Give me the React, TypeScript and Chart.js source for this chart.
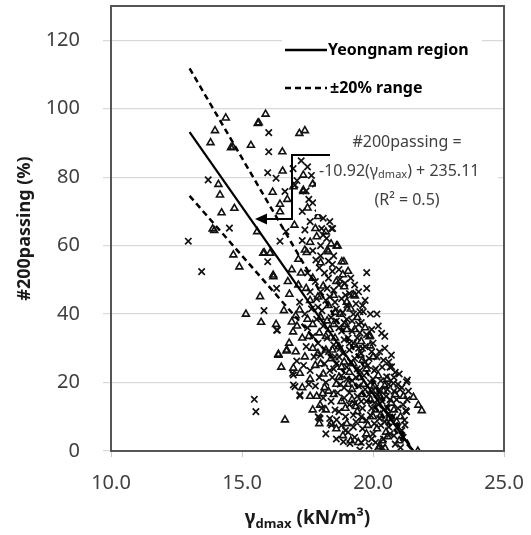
import React, { useEffect, useRef } from 'react';
import { Chart, registerables } from 'chart.js';

Chart.register(...registerables);

const FONT = '"Noto Sans", "DejaVu Sans", sans-serif';

// axis ranges / ticks
const xMin = 10;
const xMax = 25;
const xStep = 5;
const yMin = 0;
const yMax = 130;
const yStep = 20;
const yTickMax = 120;

// triangles (one data group)
const triPoints: [number, number][] = [
  [14.38, 97.3], [13.97, 93.6], [13.8, 90.1], [14.58, 88.6], [14.65, 88.8], [15.34, 89.3], [15.6, 95.7], [15.64, 95.9],
  [15.9, 98.4], [16.54, 87.4], [17.19, 92.8], [17.4, 93.6], [14.1, 77.9], [14.16, 74.8], [14.22, 69.6], [14.71, 70.9],
  [13.88, 64.9], [13.94, 64.4], [14.67, 57.3], [14.9, 53.8], [15.58, 64.1], [16.55, 81.8], [16.17, 75.6], [16.73, 73.5],
  [16.45, 72.1], [16.45, 69.9], [15.81, 57.8], [16.07, 57.8], [16.19, 51.4], [15.69, 45.1], [16.81, 45.8], [17.47, 58.0],
  [17.34, 75.8], [15.15, 40.0], [15.73, 37.6], [16.39, 28.3], [16.71, 29.5], [16.64, 9.1], [16.96, 24.2], [17.21, 22.7],
  [16.9, 37.7], [17.05, 39.5], [17.34, 76.2], [17.85, 62.6], [18.61, 59.9], [18.26, 58.7], [18.81, 55.3], [17.4, 58.7],
  [16.96, 77.2], [17.34, 80.6], [18.65, 59.9], [18.89, 55.3], [18.29, 58.2], [19.31, 45.3], [19.89, 33.6], [19.89, 30.7],
  [19.25, 45.6], [19.86, 33.4], [21.54, 15.7], [21.73, 13.4], [21.86, 11.8], [21.71, 0.0], [20.56, 4.2], [21.16, 16.0],
  [19.44, 2.5], [20.27, 1.3], [20.46, 0.8], [20.2, 0.8], [18.08, 16.8], [17.98, 13.4], [16.39, 28.0], [16.7, 29.2],
  [16.2, 50.9], [15.85, 57.9],
  [17.1, 36.5], [17.3, 33.0], [16.95, 34.8], [17.5, 38.5], [17.2, 41.2], [17.6, 44.0], [17.45, 47.5], [17.7, 50.5],
  [17.9, 45.0], [18.1, 48.2], [18.3, 42.5], [18.0, 39.0], [18.5, 37.0], [18.2, 33.5], [17.7, 30.0], [17.4, 27.5],
  [17.8, 25.0], [18.1, 22.5], [17.6, 21.0], [18.4, 27.0], [18.7, 30.5], [18.9, 26.0], [19.1, 23.0], [18.6, 19.5],
  [18.3, 17.5], [18.8, 14.5], [19.2, 18.0], [19.5, 21.5], [19.6, 26.5], [19.3, 31.0], [19.0, 35.5], [18.75, 40.0],
  [18.5, 45.5], [18.9, 48.0], [19.4, 39.0], [19.7, 36.0], [20.0, 27.5], [20.2, 22.0], [20.4, 17.5], [19.9, 15.0],
  [19.4, 11.5], [19.0, 8.0], [18.6, 6.5], [19.8, 7.5], [20.3, 10.5], [20.7, 14.0], [20.9, 8.5], [20.5, 5.5],
  [21.0, 3.0], [18.0, 55.0], [17.6, 61.0], [18.2, 64.0], [17.9, 68.5], [17.5, 71.0], [18.3, 71.5], [17.7, 78.0],
  [17.0, 66.0], [16.9, 53.0], [17.15, 48.5], [16.6, 41.0], [16.3, 37.0], [16.8, 31.5], [17.05, 29.0], [16.5, 24.5],
  [17.6, 16.0], [18.2, 12.0], [17.3, 18.5],
  [18.35, 35.5], [18.55, 33.0], [18.95, 37.0], [19.15, 41.5], [18.45, 29.5], [18.8, 24.5], [19.25, 25.5], [19.5, 28.0],
  [19.75, 24.0], [20.05, 19.0], [20.3, 15.5], [20.55, 21.0], [20.8, 12.0], [21.05, 10.0], [19.6, 16.5], [19.2, 15.0],
  [18.95, 12.5], [18.5, 16.5], [18.15, 18.5], [17.85, 16.0], [17.7, 12.0], [18.4, 8.0], [19.15, 3.0], [19.6, 9.0],
  [20.1, 12.0], [20.15, 6.5], [18.25, 38.0], [17.95, 34.5], [17.7, 37.0], [17.55, 33.5], [17.9, 28.5], [18.6, 49.5],
  [18.85, 51.5], [19.05, 52.5], [17.25, 52.0], [17.15, 56.0], [16.75, 49.5], [17.8, 65.0], [18.4, 60.5],
  [19.65, 19.5], [19.95, 17.5], [20.25, 16.0], [20.6, 9.5], [20.0, 10.0], [19.35, 13.0], [19.05, 19.5], [18.7, 21.5],
  [19.3, 35.5], [19.55, 32.0], [18.2, 29.5], [18.0, 25.5], [18.55, 40.5], [19.0, 43.5], [20.45, 19.0], [20.85, 16.5],
  [20.35, 3.0], [19.75, 5.0], [18.85, 4.5], [17.95, 8.0],
];

// crosses (other data group)
const crossPoints: [number, number][] = [
  [16.02, 93.0], [16.02, 87.4], [17.26, 84.8], [13.71, 79.2], [14.52, 65.1], [12.95, 61.3], [13.46, 52.4], [15.98, 81.3],
  [16.3, 79.7], [16.64, 75.8], [16.68, 64.1], [16.45, 61.3], [15.98, 55.3], [16.32, 47.5], [17.82, 55.8], [17.02, 77.7],
  [15.84, 41.0], [16.35, 35.3], [15.47, 15.1], [15.53, 11.5], [17.02, 18.8], [17.21, 16.1], [17.09, 26.3], [16.93, 22.7],
  [17.95, 9.7], [17.4, 64.6], [17.6, 67.0], [18.04, 65.0], [18.1, 63.1], [18.42, 65.0], [18.23, 62.1], [18.1, 68.0],
  [19.76, 52.1], [19.76, 47.5], [18.46, 65.0], [18.74, 50.2], [18.93, 49.0], [19.02, 42.2], [19.63, 40.7], [20.33, 34.4],
  [16.32, 35.3], [19.0, 42.7], [19.5, 40.7], [20.65, 24.5], [21.31, 20.7], [21.25, 11.8], [21.22, 7.6], [21.03, 18.0],
  [17.91, 10.0], [18.87, 2.7], [16.96, 22.2], [16.96, 19.3], [17.21, 16.4], [21.28, 20.2], [21.28, 11.5], [19.5, 0.3],
  [19.12, 2.2], [17.98, 9.5], [18.42, 7.6], [18.61, 9.1], [20.71, 9.5], [20.78, 19.8], [20.71, 24.6], [20.52, 21.7],
  [17.5, 83.0], [17.65, 80.5], [17.8, 78.0], [17.45, 76.0], [18.0, 74.5], [17.7, 72.5], [18.2, 70.5], [17.9, 69.5],
  [18.35, 67.0], [17.3, 70.0], [17.55, 73.5], [16.95, 82.5], [17.1, 79.0], [18.0, 60.0], [17.7, 58.5], [18.5, 57.0],
  [18.7, 53.0], [17.3, 61.5],
  [17.5, 52.0], [17.8, 49.5], [18.0, 46.5], [18.3, 50.5], [18.5, 47.0], [18.2, 44.0], [17.9, 42.0], [18.6, 41.5],
  [18.8, 44.5], [18.4, 39.0], [18.1, 36.5], [18.7, 36.0], [19.0, 38.5], [19.2, 35.0], [18.9, 32.5], [18.5, 31.0],
  [18.3, 29.0], [18.0, 28.0], [18.7, 27.5], [19.1, 29.5], [19.4, 33.0], [19.6, 30.0], [19.3, 27.0], [19.0, 24.5],
  [18.8, 22.0], [18.5, 24.0], [18.2, 20.0], [18.9, 18.5], [19.2, 20.5], [19.5, 23.5], [19.8, 25.0], [20.0, 21.0],
  [19.7, 18.0], [19.4, 16.0], [19.1, 13.5], [18.7, 11.5], [18.4, 14.5], [19.6, 12.5], [19.9, 10.5], [20.2, 13.5],
  [20.5, 16.0], [20.1, 18.5], [20.4, 26.5], [20.0, 31.5], [19.75, 34.0], [19.35, 43.0], [19.1, 46.0], [20.6, 11.0],
  [20.3, 7.5], [20.0, 5.0], [19.6, 6.5], [19.3, 4.0], [20.8, 4.5], [21.1, 6.0], [20.9, 15.0], [20.6, 19.5],
  [21.0, 22.5], [17.7, 33.5], [17.5, 36.0], [17.2, 43.5], [17.4, 40.0], [17.6, 46.5], [17.9, 31.5], [18.15, 25.5],
  [17.8, 19.0], [18.1, 15.5], [17.6, 23.5], [18.35, 9.5], [18.6, 3.5], [19.85, 1.5], [20.1, 2.5], [19.35, 8.5],
  [18.95, 10.0], [19.55, 28.5], [19.9, 40.0], [20.2, 36.5], [20.45, 30.0], [20.7, 28.0], [21.3, 15.0], [20.95, 12.5],
  [19.15, 50.5], [18.0, 57.0],
  [18.6, 38.0], [18.8, 35.0], [19.05, 33.0], [18.75, 30.0], [19.25, 31.5], [19.5, 34.5], [19.15, 26.0], [19.4, 24.0],
  [19.65, 22.0], [19.9, 20.0], [20.15, 16.5], [20.35, 14.5], [20.55, 12.5], [20.75, 10.0], [20.95, 7.0], [21.15, 4.0],
  [19.85, 27.0], [20.1, 24.0], [20.3, 20.5], [19.0, 21.0], [18.65, 17.0], [18.9, 15.5], [19.3, 14.0], [19.55, 10.0],
  [19.75, 14.5], [20.05, 8.0], [18.45, 21.5], [18.25, 33.0], [18.55, 27.5], [18.85, 40.5], [19.2, 38.0], [19.55, 37.5],
  [18.35, 45.0], [18.05, 41.0], [17.85, 38.5], [17.65, 41.5], [18.15, 52.0], [18.45, 54.5], [17.95, 53.5], [19.45, 46.5],
  [19.7, 44.0], [20.15, 40.0], [20.45, 33.5], [20.6, 26.0], [20.85, 23.0], [21.1, 18.5], [21.2, 9.0], [20.4, 3.5],
  [19.7, 3.5], [19.05, 5.5], [18.8, 7.5], [18.2, 5.0], [19.45, 19.0], [19.25, 10.5], [20.25, 29.0], [17.75, 27.5],
  [17.45, 30.5], [17.35, 25.0], [17.55, 19.5], [17.95, 21.5], [18.05, 12.5], [18.55, 12.0], [19.7, 30.5], [19.95, 35.5],
  [20.6, 7.0], [20.8, 17.5],
  [19.95, 12.5], [20.25, 9.5], [20.45, 8.5], [20.65, 5.0], [20.85, 2.0], [21.05, 1.0], [20.35, 1.0], [19.95, 3.5],
  [19.55, 2.5], [19.25, 7.0], [18.95, 6.0], [19.75, 9.0], [20.05, 14.0], [20.4, 12.0], [20.65, 15.0], [20.95, 19.5],
  [20.25, 18.0], [19.85, 16.5], [19.55, 14.5], [19.1, 17.0], [18.75, 19.5], [19.35, 21.5], [19.7, 26.0], [20.05, 23.5],
  [20.35, 24.5], [20.15, 27.5], [19.45, 30.0], [19.1, 31.5], [18.85, 28.5], [18.6, 25.5], [18.35, 23.5], [18.9, 37.5],
  [19.25, 40.0], [19.6, 42.5], [19.3, 48.5], [18.95, 45.5], [18.55, 43.5], [18.7, 48.5], [18.25, 47.5], [17.85, 44.5],
  [18.45, 52.5], [19.45, 37.0], [19.95, 29.0], [20.55, 18.0], [21.15, 13.5], [21.35, 17.5], [20.8, 21.5], [18.3, 55.5],
];

// regression line and ±20% range (end points)
const fitLine: [number, number][] = [[13.0, 93.15], [21.53, 0.0]];
const upperLine: [number, number][] = [[13.0, 111.78], [21.53, 0.0]];
const lowerLine: [number, number][] = [[13.0, 74.52], [21.53, 0.0]];

const legendLabels = ['Yeongnam region', '±20% range'];
const eqLine1 = '#200passing =';
const eqLine2a = '-10.92(γ';
const eqLine2sub = 'dmax';
const eqLine2b = ') + 235.11';
const eqLine3 = '(R² = 0.5)';
const yTitle = '#200passing (%)';
const xTitleMain = 'γ';
const xTitleSub = 'dmax';
const xTitleRest = ' (kN/m³)';

const toXY = (arr: [number, number][]) => arr.map(([x, y]) => ({ x, y }));

const zeroPadding = (s: any) => {
  s.paddingTop = 0;
  s.paddingBottom = 0;
  s.paddingLeft = 0;
  s.paddingRight = 0;
};

const overlay = {
  id: 'overlay',
  afterDraw(chart: any) {
    const ctx = chart.ctx as CanvasRenderingContext2D;
    const a = chart.chartArea;
    ctx.save();

    // plot frame
    ctx.strokeStyle = '#555555';
    ctx.lineWidth = 2;
    ctx.strokeRect(a.left, a.top, a.right - a.left, a.bottom - a.top);

    // legend box
    ctx.fillStyle = '#ffffff';
    ctx.fillRect(282, 24, 200, 78);
    ctx.strokeStyle = '#000000';
    ctx.lineWidth = 2.5;
    ctx.setLineDash([]);
    ctx.beginPath();
    ctx.moveTo(285, 50);
    ctx.lineTo(327, 50);
    ctx.stroke();
    ctx.setLineDash([6, 4]);
    ctx.beginPath();
    ctx.moveTo(285, 88);
    ctx.lineTo(327, 88);
    ctx.stroke();
    ctx.setLineDash([]);
    ctx.fillStyle = '#000000';
    ctx.font = `bold 16px ${FONT}`;
    ctx.textBaseline = 'middle';
    ctx.textAlign = 'left';
    ctx.fillText(legendLabels[0], 328, 50);
    ctx.fillText(legendLabels[1], 330, 88);

    // equation box
    ctx.fillStyle = '#ffffff';
    ctx.fillRect(316, 126, 182, 88);
    ctx.fillStyle = '#404040';
    ctx.font = `16px ${FONT}`;
    ctx.textAlign = 'center';
    ctx.fillText(eqLine1, 407, 142);
    ctx.fillText(eqLine3, 407, 200);
    ctx.textAlign = 'left';
    let x = 319;
    ctx.fillText(eqLine2a, x, 171);
    x += ctx.measureText(eqLine2a).width;
    ctx.font = `11px ${FONT}`;
    ctx.fillText(eqLine2sub, x, 175);
    x += ctx.measureText(eqLine2sub).width;
    ctx.font = `16px ${FONT}`;
    ctx.fillText(eqLine2b, x, 171);

    // arrow
    ctx.strokeStyle = '#000000';
    ctx.lineWidth = 2;
    ctx.beginPath();
    ctx.moveTo(330, 155);
    ctx.lineTo(292, 155);
    ctx.lineTo(292, 219);
    ctx.lineTo(265, 219);
    ctx.stroke();
    ctx.fillStyle = '#000000';
    ctx.beginPath();
    ctx.moveTo(255, 219);
    ctx.lineTo(267, 213.5);
    ctx.lineTo(267, 224.5);
    ctx.closePath();
    ctx.fill();

    // y title
    ctx.save();
    ctx.translate(25, (a.top + a.bottom) / 2);
    ctx.rotate(-Math.PI / 2);
    ctx.font = `bold 18px ${FONT}`;
    ctx.fillStyle = '#1a1a1a';
    ctx.textAlign = 'center';
    ctx.textBaseline = 'middle';
    ctx.fillText(yTitle, 0, 0);
    ctx.restore();

    // x title
    ctx.fillStyle = '#1a1a1a';
    ctx.textBaseline = 'alphabetic';
    ctx.textAlign = 'left';
    ctx.font = `bold 19px ${FONT}`;
    const w1 = ctx.measureText(xTitleMain).width;
    const w3 = ctx.measureText(xTitleRest).width;
    ctx.font = `bold 13px ${FONT}`;
    const w2 = ctx.measureText(xTitleSub).width;
    let tx = (a.left + a.right) / 2 - (w1 + w2 + w3) / 2;
    ctx.font = `bold 19px ${FONT}`;
    ctx.fillText(xTitleMain, tx, 524);
    tx += w1;
    ctx.font = `bold 13px ${FONT}`;
    ctx.fillText(xTitleSub, tx, 528);
    tx += w2;
    ctx.font = `bold 19px ${FONT}`;
    ctx.fillText(xTitleRest, tx, 524);

    ctx.restore();
  },
};

export default function App() {
  const ref = useRef<HTMLCanvasElement | null>(null);

  useEffect(() => {
    if (!ref.current) return;
    const chart = new Chart(ref.current, {
      type: 'scatter',
      data: {
        datasets: [
          {
            label: legendLabels[0],
            data: toXY(fitLine),
            showLine: true,
            borderColor: '#000000',
            borderWidth: 2.2,
            pointRadius: 0,
          },
          {
            label: legendLabels[1],
            data: toXY(upperLine),
            showLine: true,
            borderColor: '#000000',
            borderWidth: 2.5,
            borderDash: [6, 4],
            pointRadius: 0,
          },
          {
            label: legendLabels[1] + ' low',
            data: toXY(lowerLine),
            showLine: true,
            borderColor: '#000000',
            borderWidth: 2.5,
            borderDash: [6, 4],
            pointRadius: 0,
          },
          {
            label: 'crosses',
            data: toXY(crossPoints),
            pointStyle: 'crossRot',
            pointRadius: 4.5,
            borderColor: '#111111',
            borderWidth: 1.7,
            backgroundColor: 'rgba(0,0,0,0)',
          },
          {
            label: 'triangles',
            data: toXY(triPoints),
            pointStyle: 'triangle',
            pointRadius: 4,
            borderColor: '#111111',
            borderWidth: 1.6,
            backgroundColor: 'rgba(255,255,255,0)',
          },
        ],
      },
      options: {
        animation: false,
        responsive: true,
        maintainAspectRatio: false,
        layout: { autoPadding: false, padding: { top: 6, right: 27, left: 0, bottom: 0 } },
        plugins: { legend: { display: false }, tooltip: { enabled: false }, title: { display: false } },
        scales: {
          x: {
            type: 'linear',
            min: xMin,
            max: xMax,
            ticks: {
              stepSize: xStep,
              padding: 14,
              color: '#404040',
              font: { family: FONT, size: 20 },
              callback: (v: any) => Number(v).toFixed(1),
            },
            grid: { display: true, drawOnChartArea: false, tickLength: 6, color: '#c8c8c8' },
            border: { display: false },
            afterFit: (s: any) => {
              s.height = 84;
              zeroPadding(s);
            },
          },
          y: {
            type: 'linear',
            min: yMin,
            max: yMax,
            ticks: {
              stepSize: yStep,
              padding: 23,
              color: '#404040',
              font: { family: FONT, size: 20 },
            },
            afterBuildTicks: (s: any) => {
              s.ticks = s.ticks.filter((t: any) => t.value <= yTickMax);
            },
            grid: { color: '#d9d9d9', lineWidth: 1.2, tickLength: 8 },
            border: { display: false },
            afterFit: (s: any) => {
              s.width = 111;
              zeroPadding(s);
            },
          },
        },
      },
      plugins: [overlay],
    } as any);
    return () => chart.destroy();
  }, []);

  return (
    <div style={{ position: 'fixed', left: 0, top: 0, width: 531, height: 535, background: '#ffffff' }}>
      <canvas ref={ref} />
    </div>
  );
}
